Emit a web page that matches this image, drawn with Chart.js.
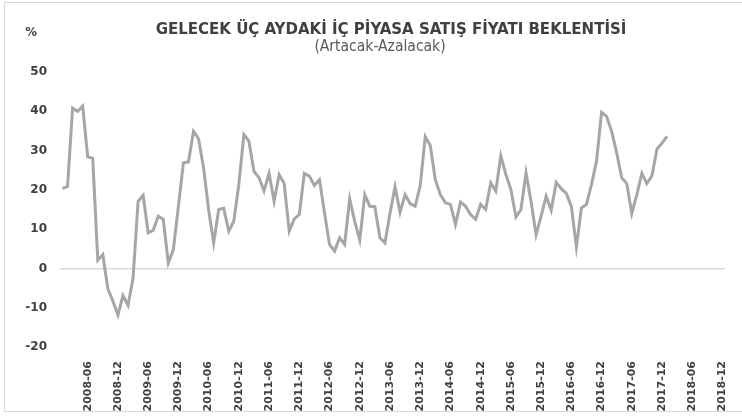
<!DOCTYPE html>
<html>
<head>
<meta charset="utf-8">
<script src="https://cdn.jsdelivr.net/npm/chart.js@4.4.1/dist/chart.umd.min.js"></script>
<style>
  body { margin: 0; background: #fff; overflow: hidden; }
  #frame { position: absolute; left: 4px; top: 2px; width: 760px; height: 408px; border: 1px solid #d9d9d9; }
  #chart { position: absolute; left: 0; top: 0; }
</style>
</head>
<body>
<div id="frame"></div>
<canvas id="chart" width="742" height="417"></canvas>
<script>
// monthly categories 2008-01 .. 2018-12
const months = [];
for (let y = 2008; y <= 2018; y++) {
    for (let m = 1; m <= 12; m++) {
        months.push(y + '-' + (m < 10 ? '0' + m : m));
    }
}

// expectation balance (Artacak-Azalacak), 2008-01 .. 2018-01
const values = [
    20.3, 20.9, 40.8, 40.0, 41.3, 28.4, 28.0, 2.1, 3.5, -5.2, -8.3, -11.9,
    -6.9, -9.4, -2.6, 17.1, 18.6, 9.1, 9.7, 13.3, 12.5, 1.4, 4.8, 15.8,
    26.9, 27.1, 34.9, 33.0, 25.6, 15.0, 6.5, 15.0, 15.3, 9.5, 12.0, 21.4,
    34.1, 32.4, 24.7, 23.1, 19.7, 24.2, 17.1, 23.9, 21.6, 9.5, 12.6, 13.7,
    24.2, 23.5, 21.1, 22.6, 14.2, 6.1, 4.4, 7.8, 6.1, 17.7, 12.0, 7.2,
    18.8, 15.8, 15.7, 7.8, 6.5, 14.0, 20.8, 14.3, 18.8, 16.5, 15.8, 21.1,
    33.5, 31.3, 22.6, 18.8, 16.7, 16.3, 11.2, 16.9, 15.8, 13.7, 12.5, 16.3,
    15.0, 21.8, 19.7, 28.7, 23.9, 20.1, 13.1, 15.0, 24.3, 17.1, 8.6, 13.3,
    18.4, 14.8, 21.9, 20.3, 19.1, 15.8, 5.5, 15.4, 16.3, 21.4, 27.3, 39.7,
    38.7, 34.9, 29.4, 23.1, 21.6, 14.0, 18.8, 24.2, 21.6, 23.6, 30.4, 31.9,
    33.6
];

const yTicks = [-20, -10, 0, 10, 20, 30, 40, 50];

const titleText = 'GELECEK ÜÇ AYDAKİ İÇ PİYASA SATIŞ FİYATI BEKLENTİSİ';
const subtitleText = '(Artacak-Azalacak)';
const unitText = '%';

const headerPlugin = {
    id: 'header',
    afterDraw(chart) {
        const ctx = chart.ctx;
        ctx.save();
        ctx.textBaseline = 'middle';
        ctx.textAlign = 'center';
        ctx.fillStyle = '#404040';
        ctx.font = 'bold 16.7px "DejaVu Sans Condensed", "DejaVu Sans", sans-serif';
        ctx.fillText(titleText, 391, 30);
        ctx.fillStyle = '#595959';
        ctx.font = '15.5px "DejaVu Sans Condensed", "DejaVu Sans", sans-serif';
        ctx.fillText(subtitleText, 380, 47);
        ctx.fillStyle = '#404040';
        ctx.font = 'bold 13px "DejaVu Sans Condensed", "DejaVu Sans", sans-serif';
        ctx.fillText(unitText, 31, 33);
        ctx.restore();
    }
};

const ctx = document.getElementById('chart').getContext('2d');
new Chart(ctx, {
    type: 'line',
    data: {
        labels: months,
        datasets: [{
            data: values,
            borderColor: '#a6a6a6',
            borderWidth: 3,
            pointRadius: 0,
            tension: 0,
            fill: false
        }]
    },
    options: {
        responsive: false,
        animation: false,
        devicePixelRatio: 1,
        layout: { padding: { top: 72, right: 17, bottom: 0, left: 0 } },
        plugins: {
            legend: { display: false },
            tooltip: { enabled: false }
        },
        scales: {
            x: {
                offset: true,
                grid: { display: false },
                border: { display: false },
                ticks: {
                    autoSkip: false,
                    maxRotation: 90,
                    minRotation: 90,
                    padding: 6,
                    color: '#404040',
                    font: { family: 'DejaVu Sans', size: 11, weight: 'bold' },
                    callback: function (value, index) {
                        return index % 6 === 5 ? this.getLabelForValue(value) : null;
                    }
                },
                afterFit: (s) => { s.height = 70; }
            },
            y: {
                min: -20,
                max: 50,
                afterBuildTicks: (s) => { s.ticks = yTicks.map(v => ({ value: v })); },
                grid: {
                    drawTicks: false,
                    lineWidth: 1.5,
                    color: (c) => c.tick && c.tick.value === 0 ? '#d9d9d9' : 'rgba(0,0,0,0)'
                },
                border: { display: false },
                ticks: {
                    padding: 13,
                    color: '#404040',
                    font: { family: 'DejaVu Sans', size: 12, weight: 'bold' }
                },
                afterFit: (s) => { s.width = 60; }
            }
        }
    },
    plugins: [headerPlugin]
});
</script>
</body>
</html>
